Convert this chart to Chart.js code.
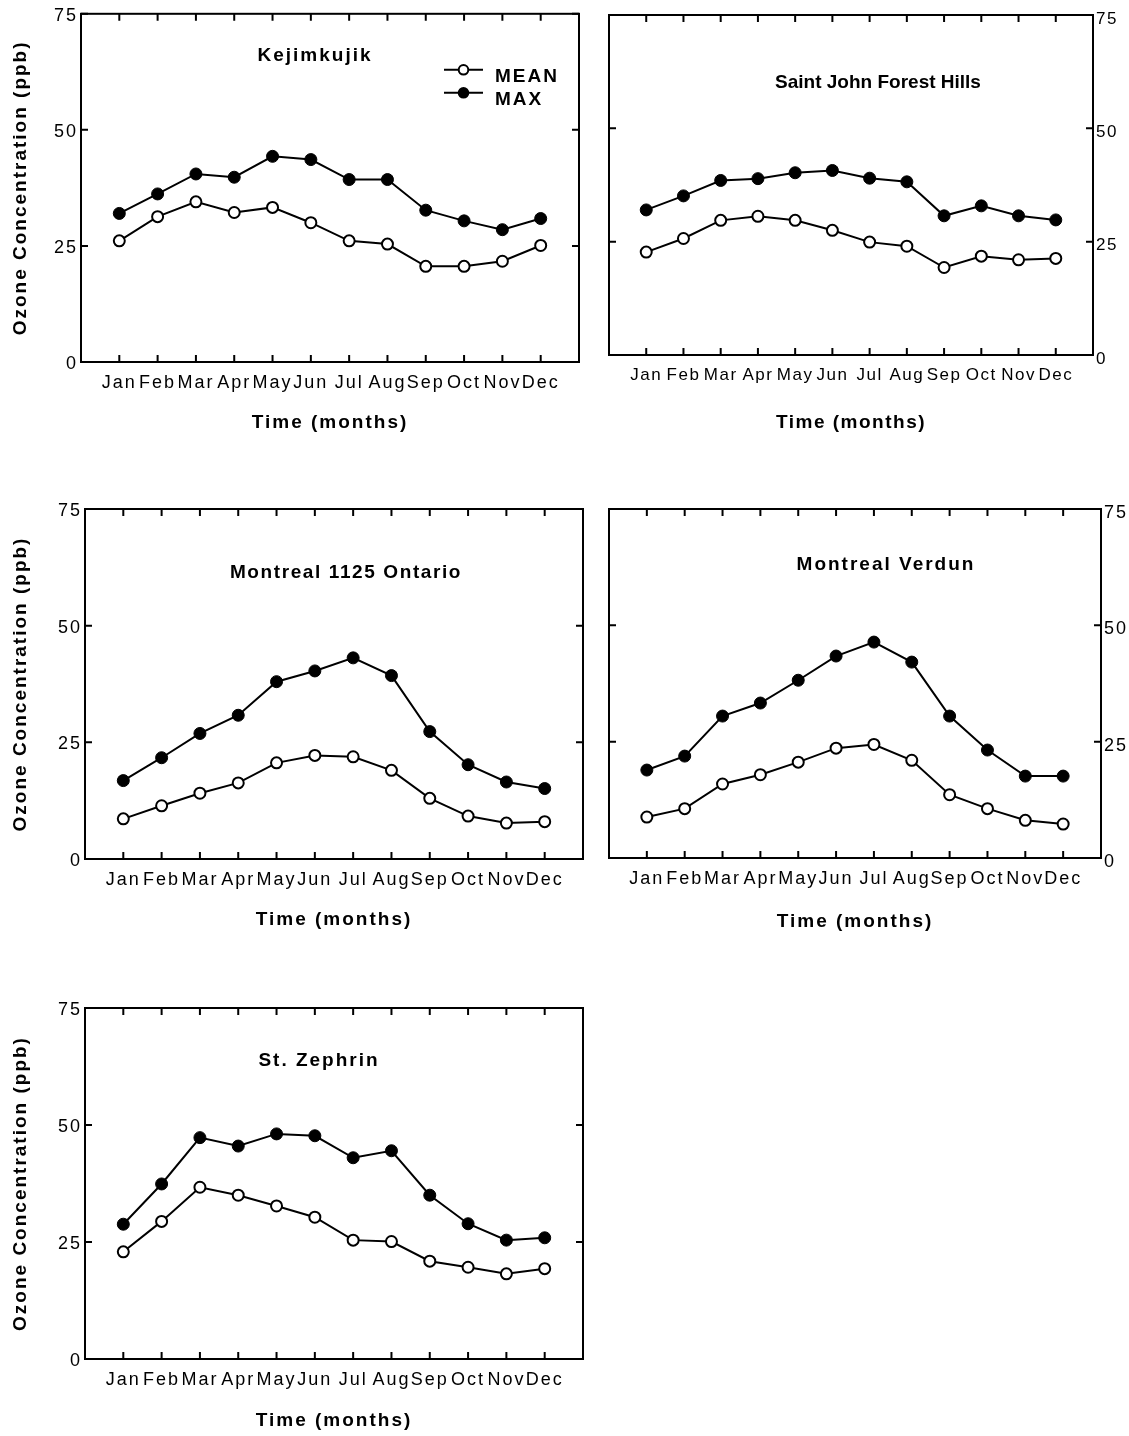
<!DOCTYPE html>
<html>
<head>
<meta charset="utf-8">
<script src="https://cdn.jsdelivr.net/npm/chart.js@4.4.1/dist/chart.umd.min.js"></script>
<style>
  html, body { margin: 0; padding: 0; background: #fff; }
  body { width: 1129px; height: 1436px; position: relative; overflow: hidden; }
  .panel { position: absolute; }
</style>
</head>
<body>
<script>
'use strict';
// data
var months = ['Jan', 'Feb', 'Mar', 'Apr', 'May', 'Jun', 'Jul', 'Aug', 'Sep', 'Oct', 'Nov', 'Dec'];
var yTicks = [0, 25, 50, 75];
var seriesNames = ['MEAN', 'MAX'];
var stationNames = ['Kejimkujik', 'Saint John Forest Hills', 'Montreal 1125 Ontario', 'Montreal Verdun', 'St. Zephrin'];

var kejimkujikMean = [26.1, 31.3, 34.5, 32.2, 33.3, 30.0, 26.1, 25.4, 20.6, 20.6, 21.7, 25.1];
var kejimkujikMax  = [32.0, 36.2, 40.5, 39.8, 44.3, 43.6, 39.3, 39.3, 32.7, 30.4, 28.5, 30.9];

var saintJohnMean = [22.7, 25.7, 29.7, 30.6, 29.7, 27.5, 24.9, 24.0, 19.3, 21.8, 21.0, 21.3];
var saintJohnMax  = [32.0, 35.1, 38.5, 38.9, 40.2, 40.7, 39.0, 38.2, 30.7, 32.9, 30.7, 29.8];

var ontarioMean = [8.6, 11.4, 14.1, 16.3, 20.6, 22.2, 21.9, 19.0, 13.0, 9.2, 7.7, 8.0];
var ontarioMax  = [16.8, 21.7, 26.9, 30.8, 38.0, 40.3, 43.1, 39.3, 27.3, 20.2, 16.5, 15.1];

var verdunMean = [8.8, 10.6, 15.9, 17.9, 20.6, 23.6, 24.4, 21.0, 13.6, 10.6, 8.1, 7.3];
var verdunMax  = [18.9, 21.9, 30.5, 33.3, 38.2, 43.4, 46.4, 42.1, 30.5, 23.2, 17.6, 17.6];

var zephrinMean = [22.9, 29.4, 36.7, 35.0, 32.7, 30.3, 25.4, 25.1, 20.9, 19.6, 18.2, 19.3];
var zephrinMax  = [28.8, 37.4, 47.3, 45.5, 48.1, 47.7, 43.0, 44.5, 35.0, 28.9, 25.4, 25.9];

// layout: plot box [left, top, right, bottom] in page pixels
var panels = [
  { name: stationNames[0], mean: kejimkujikMean, max: kejimkujikMax, box: [81, 13, 579, 362], axis: 'left',
    titleAt: [234, 42], titleSpacing: 2, timeGap: 61, tickSize: 18, spacing: 2, legend: true },
  { name: stationNames[1], mean: saintJohnMean, max: saintJohnMax, box: [609, 15, 1093, 355], axis: 'right',
    titleAt: [269, 68], titleSpacing: 0, timeGap: 68, tickSize: 17, spacing: 1.5 },
  { name: stationNames[2], mean: ontarioMean, max: ontarioMax, box: [85, 509, 583, 859], axis: 'left',
    titleAt: [261, 64], titleSpacing: 1.6, timeGap: 61, tickSize: 18, spacing: 2 },
  { name: stationNames[3], mean: verdunMean, max: verdunMax, box: [609, 509, 1101, 858], axis: 'right',
    titleAt: [277, 56], titleSpacing: 2, timeGap: 64, tickSize: 18, spacing: 2 },
  { name: stationNames[4], mean: zephrinMean, max: zephrinMax, box: [85, 1008, 583, 1359], axis: 'left',
    titleAt: [234, 53], titleSpacing: 2, timeGap: 62, tickSize: 18, spacing: 2 }
];

var FONT = '"Liberation Sans", Arial, Helvetica, sans-serif';
Chart.defaults.font.family = FONT;
Chart.defaults.color = '#000';

// box, inward ticks, station title and legend
var framePlugin = {
  id: 'frame',
  beforeDraw: function(chart, args, opts) {
    chart.ctx.letterSpacing = opts.spacing + 'px';
  },
  beforeDatasetsDraw: function(chart) {
    var ctx = chart.ctx, a = chart.chartArea;
    var xs = chart.scales.x, ys = chart.scales.y;
    ctx.save();
    ctx.strokeStyle = '#000';
    ctx.lineWidth = 2;
    ctx.strokeRect(a.left, a.top, a.right - a.left, a.bottom - a.top);
    ctx.beginPath();
    xs.ticks.forEach(function(t) {
      var px = xs.getPixelForValue(t.value);
      ctx.moveTo(px, a.bottom); ctx.lineTo(px, a.bottom - 7);
      ctx.moveTo(px, a.top); ctx.lineTo(px, a.top + 7);
    });
    ys.ticks.forEach(function(t) {
      var py = ys.getPixelForValue(t.value);
      ctx.moveTo(a.left, py); ctx.lineTo(a.left + 7, py);
      ctx.moveTo(a.right, py); ctx.lineTo(a.right - 7, py);
    });
    ctx.stroke();
    ctx.restore();
  },
  afterDraw: function(chart, args, opts) {
    var ctx = chart.ctx, a = chart.chartArea;
    ctx.save();
    ctx.fillStyle = '#000';
    ctx.font = 'bold 19px ' + FONT;
    ctx.letterSpacing = opts.titleSpacing + 'px';
    ctx.textAlign = 'center';
    ctx.textBaseline = 'middle';
    ctx.fillText(opts.title, a.left + opts.titleAt[0], a.top + opts.titleAt[1]);

    if (opts.legend) {
      var lx = a.left + 363, ly = a.top + 56;
      ctx.letterSpacing = '2px';
      ctx.textAlign = 'left';
      chart.data.datasets.forEach(function(ds, i) {
        var y = ly + i * 23;
        ctx.beginPath();
        ctx.moveTo(lx, y); ctx.lineTo(lx + 39, y);
        ctx.lineWidth = ds.borderWidth;
        ctx.strokeStyle = ds.borderColor;
        ctx.stroke();
        ctx.beginPath();
        ctx.arc(lx + 19.5, y, 4.8, 0, Math.PI * 2);
        ctx.fillStyle = ds.pointBackgroundColor;
        ctx.fill();
        ctx.lineWidth = 2;
        ctx.strokeStyle = ds.pointBorderColor;
        ctx.stroke();
        ctx.fillStyle = '#000';
        ctx.fillText(ds.label, lx + 51, y + 7);
      });
    }
    ctx.restore();
  }
};

function toPoints(values) {
  return values.map(function(v, i) { return { x: i, y: v }; });
}

panels.forEach(function(p) {
  var left = p.box[0], top = p.box[1], right = p.box[2], bottom = p.box[3];
  var padTop = Math.min(15, top);
  var xAxisH = 80;
  var yAxisW = p.axis === 'left' ? left : 35;
  var padLeft = p.axis === 'left' ? 0 : 10;
  var padRight = p.axis === 'left' ? 10 : 0;
  var divLeft = p.axis === 'left' ? 0 : left - padLeft;
  var divW = p.axis === 'left' ? right + padRight : (right - left) + padLeft + yAxisW;
  var divH = padTop + (bottom - top) + xAxisH;

  var div = document.createElement('div');
  div.className = 'panel';
  div.style.left = divLeft + 'px';
  div.style.top = (top - padTop) + 'px';
  div.style.width = divW + 'px';
  div.style.height = divH + 'px';
  var canvas = document.createElement('canvas');
  div.appendChild(canvas);
  document.body.appendChild(div);

  new Chart(canvas.getContext('2d'), {
    type: 'line',
    data: {
      datasets: [
        { label: seriesNames[0], data: toPoints(p.mean), borderColor: '#000', borderWidth: 2,
          pointRadius: 5.5, pointBackgroundColor: '#fff', pointBorderColor: '#000', pointBorderWidth: 2 },
        { label: seriesNames[1], data: toPoints(p.max), borderColor: '#000', borderWidth: 2,
          pointRadius: 6, pointBackgroundColor: '#000', pointBorderColor: '#000', pointBorderWidth: 1 }
      ]
    },
    options: {
      responsive: true,
      maintainAspectRatio: false,
      animation: false,
      layout: { padding: { top: padTop, left: padLeft, right: padRight, bottom: 0 } },
      plugins: {
        legend: { display: false },
        tooltip: { enabled: false },
        frame: { title: p.name, titleAt: p.titleAt, titleSpacing: p.titleSpacing, spacing: p.spacing, legend: !!p.legend }
      },
      scales: {
        x: {
          type: 'linear', position: 'bottom', min: -1, max: 12,
          afterBuildTicks: function(s) { s.ticks = months.map(function(m, i) { return { value: i }; }); },
          afterFit: function(s) { s.height = xAxisH; },
          grid: { display: false, drawTicks: false },
          border: { display: false },
          ticks: { autoSkip: false, maxRotation: 0, padding: 10, font: { size: p.tickSize },
                   callback: function(v) { return months[v]; } },
          title: { display: true, text: 'Time (months)', font: { size: 19, weight: 'bold' },
                   padding: { top: 0, bottom: xAxisH - 11.4 - p.timeGap } }
        },
        y: {
          type: 'linear', position: p.axis, min: 0, max: 75,
          afterBuildTicks: function(s) { s.ticks = yTicks.map(function(v) { return { value: v }; }); },
          afterFit: function(s) { s.width = yAxisW; },
          grid: { display: false, drawTicks: false },
          border: { display: false },
          ticks: { padding: 3, labelOffset: p.axis === 'left' ? 2 : 4, font: { size: p.tickSize } },
          title: { display: p.axis === 'left', text: 'Ozone Concentration (ppb)', font: { size: 19, weight: 'bold' },
                   padding: { top: 9, bottom: 0 } }
        }
      }
    },
    plugins: [framePlugin]
  });
});
</script>
</body>
</html>
